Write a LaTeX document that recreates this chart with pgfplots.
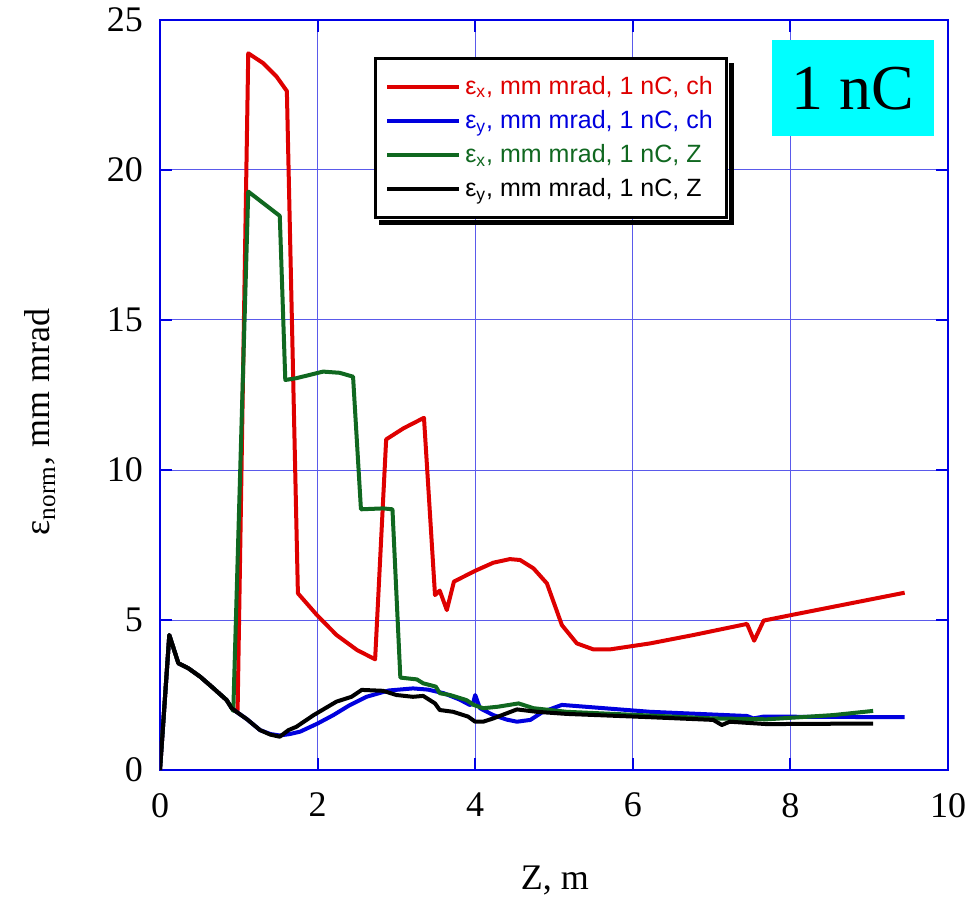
\documentclass[border=0pt]{standalone}
\usepackage{pgfplots}
\pgfplotsset{compat=1.18}
\usepackage{fontspec}
\setmainfont{Liberation Serif}
\setsansfont{Liberation Sans}
\definecolor{cRed}{RGB}{222,0,0}
\definecolor{cBlue}{RGB}{0,0,222}
\definecolor{cGreen}{RGB}{16,104,32}
\definecolor{cAxis}{RGB}{0,0,230}
\definecolor{cGrid}{RGB}{90,90,235}
\definecolor{cBox}{RGB}{0,255,255}
\begin{document}
\begin{tikzpicture}
\begin{axis}[
  scale only axis,
  width=394pt, height=375pt,
  xmin=0, xmax=10, ymin=0, ymax=25,
  xtick={0,2,4,6,8,10}, ytick={0,5,10,15,20,25},
  grid=major,
  major grid style={cGrid, line width=0.5pt},
  axis line style={cAxis, line width=1pt},
  tick style={cAxis, line width=1pt},
  tick align=inside, major tick length=6pt,
  /pgf/number format/assume math mode=true,
  ticklabel style={font=\fontsize{18}{20}\selectfont},
  xticklabel style={yshift=-8pt},
  yticklabel style={xshift=-5pt},
  xlabel={Z, m},
  ylabel={ε\textsubscript{norm}, mm mrad},
  label style={font=\fontsize{18}{20}\selectfont},
  xlabel style={at={(axis description cs:0.501,-0.147)}, anchor=center},
  ylabel style={at={(axis description cs:-0.152,0.464)}, anchor=center},
  legend cell align=left,
  legend image code/.code={\draw[#1] (0pt,0pt) -- (36pt,0pt);},
  legend style={name=leg, at={(0.2716,0.9507)}, anchor=north west, draw=black, line width=1.3pt,
     font=\sffamily\fontsize{12.5}{15}\selectfont, row sep=2.5pt, inner xsep=5pt, inner ysep=7pt},
  every axis plot/.append style={line width=2pt, line join=round},
]
\addplot[cRed, no markers] coordinates {
(0,0) (0.118,4.5) (0.233,3.56) (0.36,3.39) (0.51,3.11) (0.68,2.72) (0.846,2.33) (0.91,2.06) (0.97,1.94) (0.985,2.0)
(1.12,23.89) (1.31,23.56) (1.48,23.11) (1.61,22.63) (1.75,5.89) (1.99,5.17) (2.24,4.5) (2.50,4.0) (2.73,3.69)
(2.87,11.02) (3.09,11.39) (3.35,11.74) (3.49,5.83) (3.55,5.98) (3.64,5.33) (3.73,6.28) (4.0,6.64) (4.23,6.91)
(4.44,7.03) (4.57,7.0) (4.74,6.72) (4.91,6.22) (5.10,4.83) (5.29,4.22) (5.50,4.02) (5.71,4.02) (6.22,4.22)
(6.77,4.5) (7.45,4.87) (7.54,4.31) (7.66,4.98) (8.02,5.17) (9.45,5.91)
};
\addlegendentry{\textcolor{cRed}{ε\textsubscript{x}, mm mrad, 1 nC, ch}}
\addplot[cBlue, no markers] coordinates {
(0,0) (0.118,4.5) (0.233,3.56) (0.36,3.39) (0.51,3.11) (0.68,2.72) (0.846,2.33) (0.91,2.06) (0.97,1.94) (1.1,1.7)
(1.27,1.33) (1.4,1.2) (1.52,1.15) (1.65,1.2) (1.78,1.28) (2.0,1.55) (2.2,1.83) (2.4,2.15) (2.62,2.44) (2.9,2.65)
(3.21,2.72) (3.4,2.68) (3.6,2.56) (3.8,2.35) (3.93,2.17) (3.97,2.2) (4.0,2.5) (4.06,2.06) (4.23,1.83) (4.4,1.68)
(4.53,1.61) (4.7,1.67) (4.86,1.94) (5.1,2.17) (6.22,1.94) (7.45,1.8) (7.53,1.72) (7.66,1.78) (9.45,1.76)
};
\addlegendentry{\textcolor{cBlue}{ε\textsubscript{y}, mm mrad, 1 nC, ch}}
\addplot[cGreen, no markers] coordinates {
(0,0) (0.118,4.5) (0.233,3.56) (0.36,3.39) (0.51,3.11) (0.68,2.72) (0.846,2.33) (0.91,2.06) (0.93,1.97)
(1.12,19.28) (1.52,18.47) (1.59,13.0) (1.73,13.06) (2.07,13.28) (2.28,13.24) (2.45,13.11) (2.55,8.69) (2.83,8.72)
(2.95,8.69) (3.05,3.08) (3.26,3.02) (3.34,2.89) (3.50,2.78) (3.55,2.56) (3.68,2.5) (3.89,2.33) (3.98,2.17)
(4.10,2.06) (4.29,2.11) (4.55,2.22) (4.74,2.06) (5.16,1.94) (7.02,1.72) (7.70,1.69) (8.54,1.83) (9.05,1.97)
};
\addlegendentry{\textcolor{cGreen}{ε\textsubscript{x}, mm mrad, 1 nC, Z}}
\addplot[black, no markers] coordinates {
(0,0) (0.118,4.5) (0.233,3.56) (0.36,3.39) (0.51,3.11) (0.68,2.72) (0.846,2.33) (0.91,2.06) (0.97,1.94) (1.1,1.7)
(1.27,1.33) (1.4,1.18) (1.52,1.11) (1.63,1.33) (1.73,1.44) (1.95,1.83) (2.24,2.28) (2.43,2.44) (2.56,2.67)
(2.83,2.64) (3.0,2.5) (3.21,2.44) (3.34,2.47) (3.49,2.22) (3.55,2.0) (3.72,1.94) (3.91,1.78) (4.0,1.61) (4.1,1.61)
(4.23,1.72) (4.29,1.78) (4.53,2.02) (4.78,1.94) (5.16,1.87) (6.22,1.76) (7.02,1.67) (7.13,1.5) (7.23,1.61)
(7.70,1.53) (9.05,1.55)
};
\addlegendentry{ε\textsubscript{y}, mm mrad, 1 nC, Z}
\node[fill=cBox, minimum width=81pt, minimum height=48pt, inner sep=0pt,
  font=\fontsize{32}{34}\selectfont] at (axis cs:8.794,22.72) {1 nC};
\coordinate (LL) at (rel axis cs:0,0);
\coordinate (UR) at (rel axis cs:1,1);
\end{axis}
\fill[black] ([shift={(0.65pt,-0.65pt)}]leg.north east) ++(0,-2.5pt) rectangle ([shift={(3pt,-3pt)}]leg.south east);
\fill[black] ([shift={(2.5pt,-0.65pt)}]leg.south west) rectangle ([shift={(3pt,-3pt)}]leg.south east);
\pgfresetboundingbox
\path ([shift={(-80pt,-64.5pt)}]LL) rectangle ([shift={(11.5pt,10pt)}]UR);
\end{tikzpicture}
\end{document}
